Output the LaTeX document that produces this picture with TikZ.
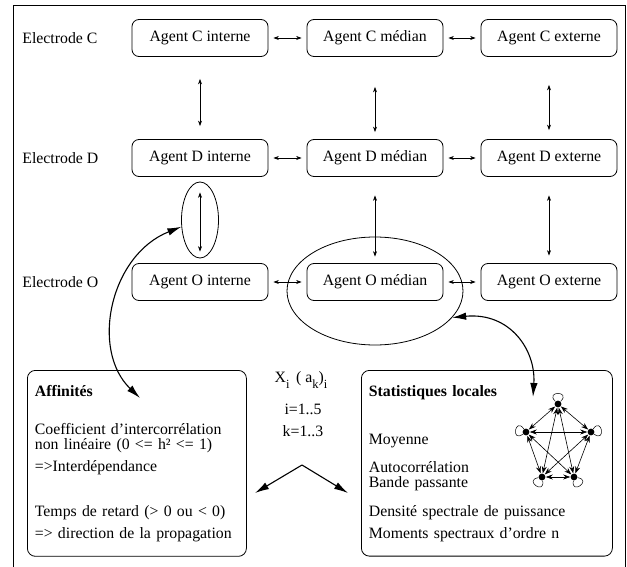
\documentclass[tikz,border=0pt]{standalone}
\usepackage{fontspec}
\setmainfont{Liberation Serif}
\usetikzlibrary{arrows.meta,shapes.geometric}
\hyphenpenalty=10000
\newcommand{\indice}[1]{\raisebox{-6.5pt}{\fontsize{12.5}{12.5}\selectfont #1}}
\tikzset{
  agent/.style={draw, rounded corners=7pt, minimum width=136pt, minimum height=37pt, inner sep=0pt},
  electrode/.style={anchor=west, inner sep=0pt},
  lien/.style={{Stealth[length=5.5pt,width=4pt]}-{Stealth[length=5.5pt,width=4pt]}, line width=0.6pt},
  fleche/.style={{Latex[length=14pt,width=7.5pt]}-{Latex[length=14pt,width=7.5pt]}, line width=1.1pt},
  simple/.style={-{Latex[length=14pt,width=7.5pt]}, line width=1.1pt},
  cadre/.style={draw, rounded corners=8pt, anchor=north west, align=left, inner xsep=7.5pt, inner ysep=14.7pt},
  sommet/.style={circle, fill=black, inner sep=2.4pt},
  arete/.style={{Stealth[length=7pt,width=5pt]}-{Stealth[length=7pt,width=5pt]}, line width=0.6pt},
  boucle/.style={loop, min distance=15pt, line width=0.5pt}
}
\begin{document}
\begin{tikzpicture}[x=1pt, y=-1pt, line width=0.8pt,
  every node/.style={font=\fontsize{15.8}{15}\selectfont}]
\useasboundingbox (0,0) rectangle (627,567);
% cadre general
\draw (13,567) -- (13,5) -- (625,5) -- (625,567);
% electrodes
\node[electrode] (elC) at (22,38) {Electrode C};
\node[electrode] (elD) at (22,158) {Electrode D};
\node[electrode] (elO) at (22,282) {Electrode O};
% agents
\node[agent] (Ci) at (200,38) {Agent C interne};
\node[agent] (Cm) at (375,38) {Agent C médian};
\node[agent] (Ce) at (549,38) {Agent C externe};
\node[agent] (Di) at (200,158) {Agent D interne};
\node[agent] (Dm) at (375,158) {Agent D médian};
\node[agent] (De) at (549,158) {Agent D externe};
\node[agent] (Oi) at (200,282) {Agent O interne};
\node[agent] (Om) at (375,282) {Agent O médian};
\node[agent] (Oe) at (549,282) {Agent O externe};
% liens horizontaux
\foreach \a/\b in {Ci/Cm,Cm/Ce,Di/Dm,Dm/De,Oi/Om,Om/Oe}
  \draw[lien, shorten <=5pt, shorten >=5pt] (\a) -- (\b);
% liens verticaux
\draw[lien, shorten <=22pt, shorten >=13pt] (Ci) -- (Di);
\draw[lien, shorten <=30pt, shorten >=7pt] (Cm) -- (Dm);
\draw[lien, shorten <=28pt, shorten >=9pt] (Ce) -- (De);
\draw[lien, shorten <=15.5pt, shorten >=11.5pt] (Di) -- (Oi);
\draw[lien, shorten <=18.5pt, shorten >=6.5pt] (Dm) -- (Om);
\draw[lien, shorten <=18.5pt, shorten >=7.5pt] (De) -- (Oe);
% ellipses
\node[draw, ellipse, minimum width=37pt, minimum height=76pt, inner sep=0pt] (petite) at (200,220) {};
\node[draw, ellipse, minimum width=176pt, minimum height=108pt, inner sep=0pt] (grande) at (375,291) {};
% cadres du bas
\node[cadre, text width=204pt] (affin) at (27,370) {\textbf{Affinités}\\[23pt]
  Coefficient d’intercorrélation\\
  non linéaire (0 <= h² <= 1)\\[7pt]
  =>Interdépendance\\[30pt]
  Temps de retard (> 0 ou < 0)\\[7pt]
  => direction de la propagation};
\node[cadre, text width=236pt] (stat) at (361,370) {\textbf{Statistiques locales}\\[33pt]
  Moyenne\\[13pt]
  Autocorrélation\\
  Bande passante\\[14pt]
  Densité spectrale de puissance\\[7pt]
  Moments spectraux d’ordre n};
% variables
\node (xi) at (301,380) {X\indice{i} \,( a\indice{k})\indice{i}};
\node (ii) at (303,409) {i=1..5};
\node (kk) at (303,431) {k=1..3};
\coordinate (sommetV) at (302,465);
\coordinate (versA) at (255,493);
\coordinate (versS) at (348,493);
\draw[simple] (sommetV) -- (versA);
\draw[simple] (sommetV) -- (versS);
% fleches courbes
\coordinate (pointeA) at (140,398);
\coordinate (pointeS) at (533,397);
\draw[fleche] (petite.200) .. controls (110,255) and (90,350) .. (pointeA);
\draw[fleche] (grande.-19) .. controls (510,312) and (536,350) .. (pointeS);
% graphe des agents
\node[sommet] (s1) at (558,404) {};
\node[sommet] (s2) at (591,432) {};
\node[sommet] (s3) at (574,477) {};
\node[sommet] (s4) at (542,477) {};
\node[sommet] (s5) at (526,432) {};
\foreach \a/\b in {s1/s2,s1/s3,s1/s4,s1/s5,s2/s3,s2/s4,s2/s5,s3/s4,s3/s5,s4/s5}
  \draw[arete] (\a) -- (\b);
\draw (s1) edge[boucle, out=135, in=45] (s1);
\draw (s2) edge[boucle, out=55, in=-35] (s2);
\draw (s3) edge[boucle, out=-10, in=-100] (s3);
\draw (s4) edge[boucle, out=-80, in=-170] (s4);
\draw (s5) edge[boucle, out=215, in=125] (s5);
\end{tikzpicture}
\end{document}
